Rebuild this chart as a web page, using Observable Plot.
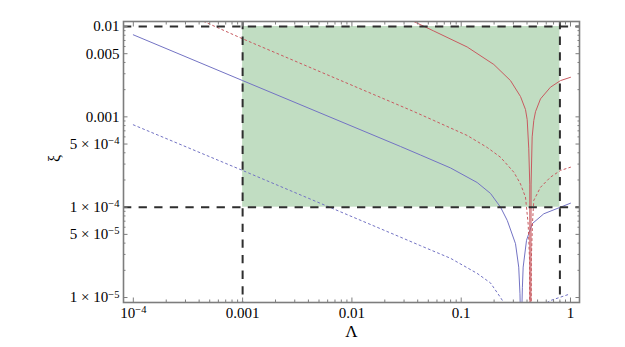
<!DOCTYPE html>
<html><head><meta charset="utf-8">
<script src="https://cdn.jsdelivr.net/npm/d3@7"></script>
<script src="https://cdn.jsdelivr.net/npm/@observablehq/plot@0.6"></script>
<style>body{margin:0;background:#fff;} #chart{width:625px;height:347px;}</style>
</head><body><div id="chart"></div>
<script>
// ---- data ----
const lamBlueSolid = [1e-4, 0.001, 0.0278, 0.0424, 0.0798, 0.140, 0.1854, 0.229, 0.264, 0.314, 0.336, 0.345, 0.350, 0.354, 0.360, 0.363, 0.369, 0.396, 0.446, 0.570, 0.81, 1.0];
const xiBlueSolid  = [0.00809, 0.00252, 4.70e-4, 3.78e-4, 2.72e-4, 1.875e-4, 1.42e-4, 1.0e-4, 7.13e-5, 3.94e-5, 2.17e-5, 1.1e-5, 5e-6, 1e-8, 8.7e-6, 1.3e-5, 2.17e-5, 4.3e-5, 6.55e-5, 8.45e-5, 1.0e-4, 1.107e-4];

const lamBlueDot = [1e-4, 0.001, 0.0278, 0.0424, 0.0798, 0.140, 0.1854, 0.229, 0.245, 0.40, 0.612, 0.656, 0.81, 1.0];
const xiBlueDot  = [8.16e-4, 2.55e-4, 4.66e-5, 3.75e-5, 2.72e-5, 1.85e-5, 1.45e-5, 1.0e-5, 8.8e-6, NaN, 8.8e-6, 9.27e-6, 1.01e-5, 1.10e-5];

const lamRedSolid = [0.0368, 0.0561, 0.1135, 0.1987, 0.2825, 0.3487, 0.3875, 0.4017, 0.415, 0.424, 0.43, 0.436, 0.446, 0.4615, 0.4786, 0.5315, 0.656, 0.81, 1.0];
const xiRedSolid  = [0.01136, 0.00892, 0.00593, 0.0038, 0.00252, 0.00168, 0.001205, 0.00093, 0.00045, 0.00018, 1e-8, 0.00018, 0.0006, 0.00091, 0.00114, 0.00158, 0.00213, 0.00252, 0.00274];

const lamRedDot = [4.39e-4, 0.001, 0.0368, 0.0561, 0.1135, 0.173, 0.229, 0.303, 0.3487, 0.3875, 0.41, 0.422, 0.43, 0.438, 0.45, 0.4615, 0.5315, 0.656, 0.81, 1.0];
const xiRedDot  = [0.0114, 0.00731, 0.001145, 9.12e-4, 6.22e-4, 4.58e-4, 3.57e-4, 2.44e-4, 1.81e-4, 1.29e-4, 6.5e-5, 2.6e-5, 1e-9, 2.6e-5, 7e-5, 1.19e-4, 1.66e-4, 2.15e-4, 2.55e-4, 2.77e-4];

const boxLambda = [0.001, 0.8];
const boxXi = [1e-4, 0.01];

const xTicks = [1e-4, 1e-3, 1e-2, 1e-1, 1];
const xTickLabels = ["10^\u22124", "0.001", "0.01", "0.1", "1"];
const yTicks = [0.01, 0.005, 0.001, 5e-4, 1e-4, 5e-5, 1e-5];
const yTickLabels = ["0.01", "0.005", "0.001", "5 \u00d7 10^\u22124", "1 \u00d7 10^\u22124", "5 \u00d7 10^\u22125", "1 \u00d7 10^\u22125"];

const xLabel = "\u039b";
const yLabel = "\u03be";

// ---- helpers ----
const rows = (L, X) => L.map((l, i) => ({lam: l, xi: X[i]}));
const xMinor = [], yMinor = [];
for (const d of [1e-4, 1e-3, 1e-2, 1e-1]) for (const m of [2,3,4,5,6,7,8,9]) xMinor.push(m * d);
for (const d of [1e-5, 1e-4, 1e-3]) for (const m of [2,3,4,6,7,8,9]) yMinor.push(m * d);

const blue = "#7373c4", red = "#c85a60", green = "#c1ddc2", dash = "#2e2e2e", frameCol = "#7d7d7d";

const plot = Plot.plot({
  width: 625, height: 347,
  marginLeft: 123, marginRight: 46, marginTop: 21, marginBottom: 45,
  style: {fontFamily: '"Liberation Serif", "Times New Roman", serif', fontSize: "15px", background: "#fff", color: "#000"},
  x: {type: "log", domain: [8.13e-5, 1.209], axis: null},
  y: {type: "log", domain: [8.81e-6, 0.01136], axis: null},
  marks: [
    Plot.rect([{x1: boxLambda[0], x2: boxLambda[1], y1: boxXi[0], y2: boxXi[1]}], {x1: "x1", x2: "x2", y1: "y1", y2: "y2", fill: green}),
    Plot.line(rows(lamBlueSolid, xiBlueSolid), {x: "lam", y: "xi", stroke: blue, strokeWidth: 1, clip: true}),
    Plot.line(rows(lamBlueDot, xiBlueDot), {x: "lam", y: "xi", stroke: blue, strokeWidth: 1, strokeDasharray: "2,3", clip: true}),
    Plot.line(rows(lamRedSolid, xiRedSolid), {x: "lam", y: "xi", stroke: red, strokeWidth: 1, clip: true}),
    Plot.line(rows(lamRedDot, xiRedDot), {x: "lam", y: "xi", stroke: red, strokeWidth: 1, strokeDasharray: "2,3", clip: true}),
    Plot.ruleY(boxXi, {stroke: dash, strokeWidth: 2, strokeDasharray: "8.3,7.3"}),
    Plot.ruleX(boxLambda, {stroke: dash, strokeWidth: 2, strokeDasharray: "8.3,7.3"}),
    Plot.frame({stroke: frameCol, strokeWidth: 1.6}),
    // inward ticks on all four sides
    Plot.axisX(xTicks, {anchor: "bottom", tickSize: -4.5, fill: "none", stroke: frameCol, label: null}),
    Plot.axisX(xTicks, {anchor: "top", tickSize: -4.5, fill: "none", stroke: frameCol, label: null}),
    Plot.axisX(xMinor, {anchor: "bottom", tickSize: -2.5, fill: "none", stroke: frameCol, label: null}),
    Plot.axisX(xMinor, {anchor: "top", tickSize: -2.5, fill: "none", stroke: frameCol, label: null}),
    Plot.axisY(yTicks, {anchor: "left", tickSize: -4.5, fill: "none", stroke: frameCol, label: null}),
    Plot.axisY(yTicks, {anchor: "right", tickSize: -4.5, fill: "none", stroke: frameCol, label: null}),
    Plot.axisY(yMinor, {anchor: "left", tickSize: -2.5, fill: "none", stroke: frameCol, label: null}),
    Plot.axisY(yMinor, {anchor: "right", tickSize: -2.5, fill: "none", stroke: frameCol, label: null}),
    // tick labels
    Plot.text(xTicks, {x: d => d, text: (d, i) => xTickLabels[i], frameAnchor: "bottom", lineAnchor: "top", dy: 4.5}),
    Plot.text(yTicks, {y: d => d, text: (d, i) => yTickLabels[i], frameAnchor: "left", textAnchor: "end", dx: -4}),
    // axis titles
    Plot.text([xLabel], {text: d => d, frameAnchor: "bottom", dy: 34, fontSize: 17}),
    Plot.text([yLabel], {text: d => d, frameAnchor: "left", dx: -69, rotate: -90, fontSize: 16})
  ]
});

d3.select(plot).selectAll("text").each(function() {
  const t = this.textContent;
  if (t.includes("^")) {
    const [base, exp] = t.split("^");
    this.textContent = base;
    d3.select(this).append("tspan").attr("dy", "-0.45em").attr("font-size", "70%").text(exp);
  }
});

document.getElementById("chart").appendChild(plot);
</script>
</body></html>
